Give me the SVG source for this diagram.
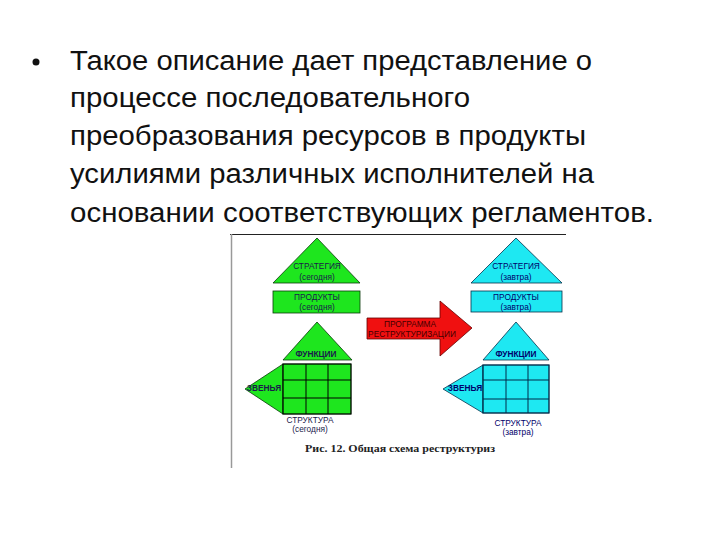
<svg xmlns="http://www.w3.org/2000/svg" width="720" height="540" viewBox="0 0 720 540">
<style>
.main{font-family:"Liberation Sans",Arial,sans-serif;font-size:27px;fill:#111}
.g{fill:#1ee61e;stroke:#0a3a0a;stroke-width:0.8}
.c{fill:#1ee8f2;stroke:#06304a;stroke-width:0.8}
.grid{fill:none;stroke:#000;stroke-width:1}
.gridc{fill:none;stroke:#002a4a;stroke-width:1}
.lbl{font-family:"Liberation Sans",Arial,sans-serif;font-size:8.3px;text-anchor:middle}
.lg{fill:#1a1a4a}
.lc{fill:#00006a}
.lb{font-weight:bold}
.cap{font-family:"Liberation Serif","Times New Roman",serif;font-size:10.5px;font-weight:bold;fill:#222}
</style>
<rect width="720" height="540" fill="#fff"/>
<g id="text">
<circle cx="36" cy="62" r="3.5" fill="#111"/>
<text class="main" x="70" y="70" textLength="522" lengthAdjust="spacingAndGlyphs">Такое описание дает представление о</text>
<text class="main" x="70" y="107" textLength="400" lengthAdjust="spacingAndGlyphs">процессе последовательного</text>
<text class="main" x="70" y="145" textLength="516" lengthAdjust="spacingAndGlyphs">преобразования ресурсов в продукты</text>
<text class="main" x="70" y="183" textLength="524" lengthAdjust="spacingAndGlyphs">усилиями различных исполнителей на</text>
<text class="main" x="70" y="222" textLength="584" lengthAdjust="spacingAndGlyphs">основании соответствующих регламентов.</text>
</g>
<g id="frame">
<line x1="230" y1="234.5" x2="566" y2="234.5" stroke="#222" stroke-width="1"/>
<line x1="231.5" y1="234" x2="231.5" y2="468" stroke="#999" stroke-width="1.5"/>
</g>
<g id="strategy-today">
<polygon class="g" points="317,238 273,283 360,283"/>
<text class="lbl lg" x="317" y="269">СТРАТЕГИЯ</text>
<text class="lbl lg" x="317" y="280">(сегодня)</text>
</g>
<g id="products-today">
<rect class="g" x="273" y="291" width="87" height="22"/>
<text class="lbl lg" x="317" y="300">ПРОДУКТЫ</text>
<text class="lbl lg" x="317" y="310">(сегодня)</text>
</g>
<g id="strategy-tomorrow">
<polygon class="c" points="516,238 471,283 562,283"/>
<text class="lbl lc" x="516" y="269">СТРАТЕГИЯ</text>
<text class="lbl lc" x="516" y="280">(завтра)</text>
</g>
<g id="products-tomorrow">
<rect class="c" x="471" y="291" width="91" height="21"/>
<text class="lbl lc" x="516" y="300">ПРОДУКТЫ</text>
<text class="lbl lc" x="516" y="310">(завтра)</text>
</g>
<g id="program">
<polygon points="367,318 440,318 440,301 472,328 440,356 440,339 367,339" fill="#f01010" stroke="#600" stroke-width="0.8"/>
<text class="lbl" x="410" y="327" fill="#400" font-size="7.5px">ПРОГРАММА</text>
<text class="lbl" x="412" y="337" fill="#400" font-size="7.5px">РЕСТРУКТУРИЗАЦИИ</text>
</g>
<g id="structure-today">
<polygon class="g" points="317,322 283,360 352,360"/>
<polygon class="g" points="283,364 245,389 283,414"/>
<rect class="g" x="283" y="364" width="68" height="50"/>
<g class="grid">
<rect x="283" y="364" width="68" height="50"/>
<line x1="306" y1="364" x2="306" y2="414"/>
<line x1="328" y1="364" x2="328" y2="414"/>
<line x1="283" y1="380" x2="351" y2="380"/>
<line x1="283" y1="398" x2="351" y2="398"/>
</g>
<text class="lbl lg lb" x="316" y="357">ФУНКЦИИ</text>
<text class="lbl lg lb" x="264" y="391">ЗВЕНЬЯ</text>
<text class="lbl lg" x="310" y="423">СТРУКТУРА</text>
<text class="lbl lg" x="310" y="432">(сегодня)</text>
</g>
<g id="structure-tomorrow">
<polygon class="c" points="516,322 483,360 549,360"/>
<polygon class="c" points="483,365 443,389 483,413"/>
<rect class="c" x="483" y="365" width="66" height="48"/>
<g class="gridc">
<rect x="483" y="365" width="66" height="48"/>
<line x1="506" y1="365" x2="506" y2="413"/>
<line x1="528" y1="365" x2="528" y2="413"/>
<line x1="483" y1="380" x2="549" y2="380"/>
<line x1="483" y1="399" x2="549" y2="399"/>
</g>
<text class="lbl lc lb" x="516" y="357">ФУНКЦИИ</text>
<text class="lbl lc lb" x="465" y="391">ЗВЕНЬЯ</text>
<text class="lbl lc" x="518" y="426">СТРУКТУРА</text>
<text class="lbl lc" x="518" y="435">(завтра)</text>
</g>
<g id="caption">
<text class="cap" x="305" y="452" textLength="190" lengthAdjust="spacingAndGlyphs">Рис. 12. Общая схема реструктуриз</text>
</g>
</svg>
